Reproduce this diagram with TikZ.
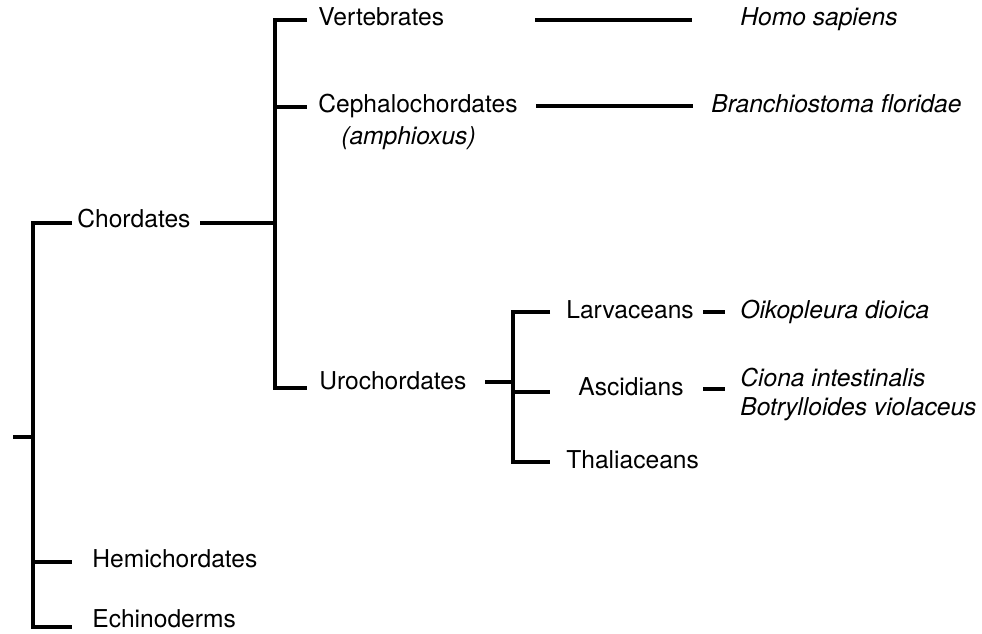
\documentclass[tikz,border=0pt]{standalone}
\usepackage{fontspec}
\setmainfont{TeX Gyre Heros}
\begin{document}
\begin{tikzpicture}[
    x=0.02cm, y=-0.02cm,
    taxon/.style={anchor=west, inner sep=0pt, text height=0.72em, text depth=0pt,
        font=\fontsize{14}{17}\selectfont},
    species/.style={taxon, font=\fontsize{14}{17}\selectfont\itshape},
    branch/.style={line width=2.2pt, draw=black},
]
\useasboundingbox (0,0) rectangle (982,634);
  % taxa
  \node[taxon] (n_chordates) at (77,221) {Chordates};
  \node[taxon] (n_vertebrates) at (318,19) {Vertebrates};
  \node[taxon] (n_cephalo) at (318,106) {Cephalochordates};
  \node[species] (n_amphioxus) at (341,138) {(amphioxus)};
  \node[taxon] (n_urochordates) at (319,383) {Urochordates};
  \node[taxon] (n_larvaceans) at (566,312) {Larvaceans};
  \node[taxon] (n_ascidians) at (578,389) {Ascidians};
  \node[taxon] (n_thaliaceans) at (566,462) {Thaliaceans};
  \node[taxon] (n_hemi) at (92,561) {Hemichordates};
  \node[taxon] (n_echino) at (92,621) {Echinoderms};
  % species
  \node[species] (n_homo) at (740,19) {Homo sapiens};
  \node[species] (n_branchio) at (711,106) {Branchiostoma floridae};
  \node[species] (n_oikopleura) at (740,312) {Oikopleura dioica};
  \node[species] (n_ciona) at (740,380) {Ciona intestinalis};
  \node[species] (n_botryllo) at (740,409) {Botrylloides violaceus};
  % branch points
  \coordinate (p_root) at (13,437);
  \coordinate (p_main) at (33,437);
  \coordinate (p_chord_end) at (72,223);
  \coordinate (p_hemi_end) at (72,562);
  \coordinate (p_echino_end) at (72,627);
  \coordinate (p_chord_out) at (200,223);
  \coordinate (p_chord_fork) at (275,223);
  \coordinate (p_vert_end) at (307,20);
  \coordinate (p_cephalo_end) at (307,107);
  \coordinate (p_uro_end) at (307,388);
  \coordinate (p_homo_in) at (535,20);
  \coordinate (p_homo_out) at (692,20);
  \coordinate (p_branchio_in) at (536,106);
  \coordinate (p_branchio_out) at (693,106);
  \coordinate (p_uro_out) at (485,382);
  \coordinate (p_uro_fork) at (513,382);
  \coordinate (p_larv_end) at (550,312);
  \coordinate (p_asc_end) at (550,392);
  \coordinate (p_thal_end) at (550,462);
  \coordinate (p_oiko_in) at (703,312);
  \coordinate (p_oiko_out) at (725,312);
  \coordinate (p_ciona_in) at (703,389);
  \coordinate (p_ciona_out) at (725,389);
  % deuterostomes
  \draw[branch] (p_root) -- (p_main);
  \draw[branch] (p_chord_end) -| (p_main) |- (p_echino_end);
  \draw[branch] (p_main |- p_hemi_end) -- (p_hemi_end);
  % chordates
  \draw[branch] (p_chord_out) -- (p_chord_fork);
  \draw[branch] (p_vert_end) -| (p_chord_fork) |- (p_uro_end);
  \draw[branch] (p_chord_fork |- p_cephalo_end) -- (p_cephalo_end);
  \draw[branch] (p_homo_in) -- (p_homo_out);
  \draw[branch] (p_branchio_in) -- (p_branchio_out);
  % urochordates
  \draw[branch] (p_uro_out) -- (p_uro_fork);
  \draw[branch] (p_larv_end) -| (p_uro_fork) |- (p_thal_end);
  \draw[branch] (p_uro_fork |- p_asc_end) -- (p_asc_end);
  \draw[branch] (p_oiko_in) -- (p_oiko_out);
  \draw[branch] (p_ciona_in) -- (p_ciona_out);
\end{tikzpicture}
\end{document}
